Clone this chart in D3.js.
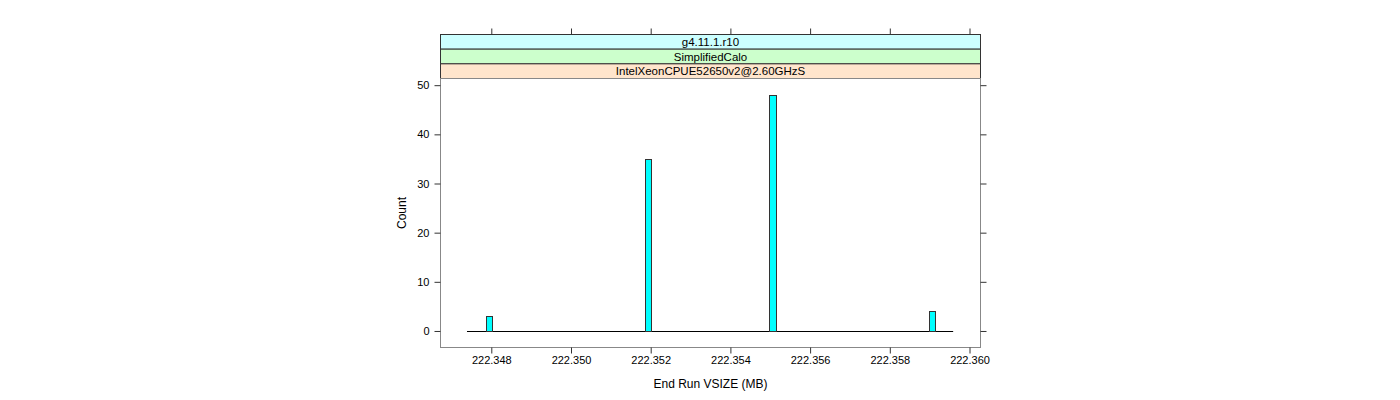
<!DOCTYPE html>
<html><head><meta charset="utf-8">
<script src="https://cdn.jsdelivr.net/npm/d3@7"></script>
<style>body{margin:0;background:#fff;} svg{display:block;font-family:"Liberation Sans",Arial,sans-serif;}</style>
</head><body><svg id="c" width="1400" height="400"></svg>
<script>
// ---- data ----
const binLo = [222.34786, 222.35186, 222.35497, 222.35899];
const binHi = [222.34801, 222.35202, 222.35514, 222.35914];
const counts = [3, 35, 48, 4];
const breaksRange = [222.34739, 222.35959];
const xTicks = [222.348, 222.350, 222.352, 222.354, 222.356, 222.358, 222.360];
const yTicks = [0, 10, 20, 30, 40, 50];
const strips = ["g4.11.1.r10", "SimplifiedCalo", "IntelXeonCPUE52650v2@2.60GHzS"];
const stripColors = ["#ccffff", "#ccffcc", "#ffe5cc"];
const xLabel = "End Run VSIZE (MB)";
const yLabel = "Count";

// ---- layout ----
const L = 440.5, R = 980.5, T = 78.5, B = 347.5;
const stripTop = 34.5, stripH = (T - stripTop) / strips.length;
const svg = d3.select("#c");

const x = d3.scaleLinear().domain([222.348, 222.360]).range([491.3, 969.5]);
const yMax = d3.max(counts);
const y = d3.scaleLinear().domain([-0.07 * yMax, yMax * 1.07]).range([B, T]);

// strips
strips.forEach((s, i) => {
  const yy = stripTop + i * stripH;
  svg.append("rect").attr("x", L).attr("y", yy).attr("width", R - L).attr("height", stripH)
    .attr("fill", stripColors[i]).attr("stroke", "#333").attr("stroke-width", 1);
  svg.append("text").attr("x", (L + R) / 2).attr("y", yy + stripH / 2 + 4)
    .attr("text-anchor", "middle").attr("font-size", 11.5).attr("fill", "#000").text(s);
});

// panel box
svg.append("rect").attr("x", L).attr("y", T).attr("width", R - L).attr("height", B - T)
  .attr("fill", "none").attr("stroke", "#888").attr("stroke-width", 1);

// baseline (empty bins)
svg.append("line").attr("x1", x(breaksRange[0])).attr("x2", x(breaksRange[1]))
  .attr("y1", Math.round(y(0)) + 0.5).attr("y2", Math.round(y(0)) + 0.5)
  .attr("stroke", "#000").attr("stroke-width", 1);

// bars
svg.selectAll("rect.bar").data(counts).enter().append("rect").attr("class", "bar")
  .attr("x", (d, i) => Math.round(x(binLo[i])) + 0.5)
  .attr("width", (d, i) => Math.round(x(binHi[i])) - Math.round(x(binLo[i])))
  .attr("y", d => Math.round(y(d)) + 0.5)
  .attr("height", d => Math.round(y(0)) - Math.round(y(d)))
  .attr("fill", "#00ffff").attr("stroke", "#333").attr("stroke-width", 1);

// axes
const ax = g => g.selectAll(".domain").remove();
svg.append("g").attr("transform", `translate(0,${B})`)
  .call(d3.axisBottom(x).tickValues(xTicks).tickFormat(d3.format(".3f")).tickSize(6).tickPadding(3))
  .call(ax).call(g => g.selectAll("text").attr("font-size", 11).attr("fill", "#000").attr("font-family", "Liberation Sans, Arial, sans-serif"))
  .call(g => g.selectAll("line").attr("stroke", "#333"));
svg.append("g").attr("transform", `translate(0,${stripTop})`)
  .call(d3.axisTop(x).tickValues(xTicks).tickFormat("").tickSize(6))
  .call(ax).call(g => g.selectAll("line").attr("stroke", "#333"));
svg.append("g").attr("transform", `translate(${L},0)`)
  .call(d3.axisLeft(y).tickValues(yTicks).tickSize(6).tickPadding(5))
  .call(ax).call(g => g.selectAll("text").attr("font-size", 11).attr("fill", "#000").attr("font-family", "Liberation Sans, Arial, sans-serif"))
  .call(g => g.selectAll("line").attr("stroke", "#333"));
svg.append("g").attr("transform", `translate(${R},0)`)
  .call(d3.axisRight(y).tickValues(yTicks).tickFormat("").tickSize(6))
  .call(ax).call(g => g.selectAll("line").attr("stroke", "#333"));

// labels
svg.append("text").attr("x", (L + R) / 2).attr("y", 388).attr("text-anchor", "middle")
  .attr("font-size", 12).attr("fill", "#000").text(xLabel);
svg.append("text").attr("transform", `translate(406,${(T + B) / 2}) rotate(-90)`)
  .attr("text-anchor", "middle").attr("font-size", 12).attr("fill", "#000").text(yLabel);
</script></body></html>
